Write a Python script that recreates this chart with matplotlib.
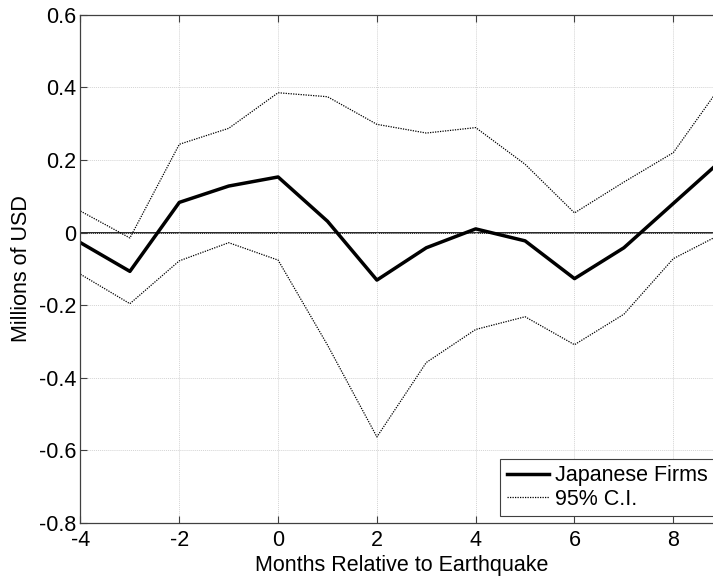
import matplotlib
matplotlib.use("Agg")
import matplotlib.pyplot as plt
import numpy as np

months = [-4, -3, -2, -1, 0, 1, 2, 3, 4, 5, 6, 7, 8, 9]
japanese_firms = [-0.028, -0.107, 0.083, 0.128, 0.153, 0.031, -0.131, -0.042, 0.010, -0.023, -0.127, -0.042, 0.080, 0.202]
ci_upper = [0.059, -0.015, 0.243, 0.287, 0.385, 0.374, 0.298, 0.274, 0.289, 0.188, 0.054, 0.139, 0.220, 0.411]
ci_lower = [-0.115, -0.196, -0.078, -0.028, -0.076, -0.31, -0.563, -0.358, -0.267, -0.232, -0.309, -0.225, -0.072, -0.002]

plt.rcParams["font.family"] = ["Liberation Sans", "DejaVu Sans"]
plt.rcParams["font.size"] = 15.5
plt.rcParams["axes.unicode_minus"] = False

fig = plt.figure(figsize=(7.13, 5.78), dpi=100)
ax = fig.add_axes([0.1129, 0.0952, 0.9007, 0.8794])

ax.plot(months, japanese_firms, color="black", lw=2.5, label="Japanese Firms")
ax.plot(months, ci_upper, color="black", lw=0.9, ls=(0, (1, 1)), label="95% C.I.")
ax.plot(months, ci_lower, color="black", lw=0.9, ls=(0, (1, 1)))
ax.axhline(0, color="black", lw=1.2, zorder=1)

ax.set_xlim(-4, 9)
ax.set_ylim(-0.8, 0.6)
ax.set_xticks([-4, -2, 0, 2, 4, 6, 8])
ax.set_yticks(np.arange(-0.8, 0.61, 0.2))
ax.set_yticklabels(["-0.8", "-0.6", "-0.4", "-0.2", "0", "0.2", "0.4", "0.6"])
ax.grid(True, color="#d4d4d4", ls=(0, (1, 1)), lw=0.7)
ax.tick_params(direction="in", length=5, width=0.8, top=True, right=True, color="#404040")
ax.tick_params(axis="x", pad=5)
ax.tick_params(axis="y", pad=3)
for sp in ax.spines.values():
    sp.set_color("#404040")
    sp.set_linewidth(0.9)

ax.set_xlabel("Months Relative to Earthquake", labelpad=3)
ax.set_ylabel("Millions of USD", labelpad=5)

leg = ax.legend(loc="lower left", bbox_to_anchor=(0.654, 0.0138), borderaxespad=0,
                fancybox=False, framealpha=1, edgecolor="#404040", handlelength=1.95,
                handletextpad=0.28, borderpad=0.3, labelspacing=0.1)
leg.get_frame().set_linewidth(0.8)

fig.savefig("out.png", dpi=100)
